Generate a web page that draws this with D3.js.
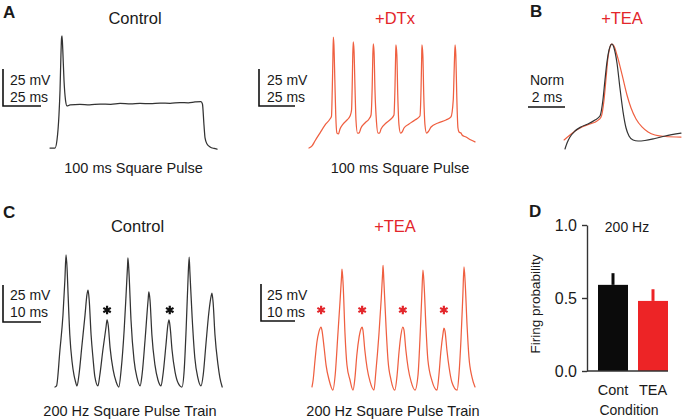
<!DOCTYPE html>
<html><head><meta charset="utf-8">
<script src="https://cdn.jsdelivr.net/npm/d3@7"></script>
<style>
body{margin:0;background:#fff}
svg{display:block}
text{font-family:"Liberation Sans",Arial,Helvetica,sans-serif}
</style>
</head><body>
<svg id="fig" width="685" height="420"></svg>
<script>
// ---------------- DATA (time in ms, membrane potential in mV) ----------------
// Panel A, Control: 100 ms square pulse
const traceA_control = [[0,-70],[3.3,-70],[4.6,-64.6],[5.9,-47.7],[6.6,-30.8],[7.2,-7.2],[7.6,4.3],[7.9,5.7],[8.4,-3.5],[9.2,-24.1],[10.2,-37.6],[11.2,-41.6],[13.2,-40.9],[19.7,-40.6],[26,-40.9],[32.9,-40.3],[40,-40.5],[46.1,-39.9],[53,-40.2],[59.2,-39.9],[66,-40.1],[72.4,-39.6],[79,-39.8],[85.5,-39.3],[91,-39.5],[95.4,-38.9],[99.3,-38.6],[100.3,-40.3],[101.3,-54.5],[102.0,-63.2],[103.3,-67.3],[105.3,-69.3],[107.9,-70.3],[109.9,-70.7]];
// Panel A, +DTx
const traceA_dtx = [[0,-70],[2.0,-68.6],[3.9,-65.3],[7.2,-59.9],[10.5,-54.5],[13.8,-50.4],[14.8,-48.4],[15.3,-30.8],[15.7,-10.5],[16.0,5.0],[16.4,-0.4],[17.0,-24.0],[17.6,-47.7],[18.4,-59.9],[19.4,-60.5],[20.4,-57.2],[22.4,-53.8],[25.0,-51.1],[27.0,-48.4],[28.0,-44.3],[28.5,-24.0],[28.8,-7.1],[29.1,1.7],[29.6,-3.8],[30.3,-30.8],[30.9,-51.1],[31.9,-59.9],[32.9,-59.9],[34.2,-56.5],[36.8,-53.1],[39.5,-50.4],[40.8,-47.7],[41.6,-27.4],[42.0,-7.1],[42.3,0.3],[42.8,-5.1],[43.4,-30.8],[44.4,-52.4],[45.4,-59.9],[46.4,-59.9],[47.4,-57.2],[50.7,-53.1],[53.9,-50.4],[55.9,-47.7],[56.6,-27.4],[57.0,-7.1],[57.2,-0.4],[57.8,-7.1],[58.4,-34.2],[59.2,-54.5],[60.2,-59.9],[61.2,-59.2],[62.5,-56.5],[65.8,-53.8],[69.7,-51.1],[73.0,-48.4],[73.7,-30.8],[74.1,-10.5],[74.3,-0.4],[74.9,-7.1],[75.5,-34.2],[76.3,-54.5],[77.3,-59.9],[78.3,-59.2],[80.3,-55.8],[84.9,-53.1],[90.1,-51.1],[93.4,-49.0],[94.9,-37.6],[95.6,-13.9],[96.1,-0.4],[96.6,-7.1],[97.2,-34.2],[98.0,-56.5],[98.7,-59.2],[100.0,-59.9],[100.7,-61.2],[103.3,-62.6],[106.6,-64.6],[109.2,-65.9]];
// Panel B: normalized spike waveform (time ms, normalized amplitude)
const traceB_control = [[0,0],[0.11,0.057],[0.27,0.114],[0.54,0.171],[0.86,0.21],[1.24,0.238],[1.62,0.276],[1.89,0.314],[2.05,0.467],[2.16,0.657],[2.27,0.829],[2.38,0.943],[2.49,0.995],[2.54,1.0],[2.65,0.962],[2.81,0.819],[2.97,0.581],[3.14,0.352],[3.30,0.2],[3.46,0.124],[3.68,0.086],[3.95,0.076],[4.32,0.081],[4.86,0.1],[5.41,0.124],[6.27,0.152]];
const traceB_tea = [[-0.05,0.086],[0.27,0.133],[0.54,0.171],[0.92,0.21],[1.35,0.238],[1.73,0.267],[1.95,0.305],[2.11,0.467],[2.22,0.676],[2.32,0.867],[2.43,0.971],[2.51,1.0],[2.65,0.981],[2.81,0.895],[2.97,0.79],[3.14,0.667],[3.35,0.514],[3.57,0.39],[3.84,0.286],[4.16,0.21],[4.49,0.162],[4.86,0.133],[5.41,0.119],[6.27,0.114]];
// Panel C, Control: 200 Hz square pulse train
const traceC_control = [[0,-70],[0.4,-69.3],[1.3,-45],[2.1,-21.4],[2.6,2.3],[2.9,19.2],[3.2,9.1],[3.4,-4.5],[3.9,-34.9],[4.5,-53.1],[5.0,-61.9],[5.3,-65.3],[5.8,-69.3],
 [6.3,-61.9],[7.1,-41.6],[7.9,-21.4],[8.4,-7.8],[8.7,-4.5],[9.0,-11.2],[9.5,-34.9],[10.0,-50.4],[10.5,-63.2],[11.3,-69.3],
 [11.8,-61.9],[12.6,-45.0],[13.4,-30.1],[13.7,-24.7],[14.0,-28.1],[14.5,-43.6],[15.3,-58.5],[16.1,-66.6],[16.8,-70],
 [17.4,-58.5],[18.2,-31.5],[18.7,-7.8],[19.1,12.4],[19.2,17.2],[19.5,5.7],[20.0,-24.7],[20.8,-51.8],[21.6,-63.9],[22.4,-69.3],
 [22.9,-61.9],[23.7,-38.2],[24.5,-11.2],[24.7,-5.8],[25.0,-11.2],[25.5,-34.9],[26.3,-55.1],[27.1,-65.3],[27.9,-69.3],
 [28.4,-61.9],[29.2,-41.6],[29.7,-28.1],[30.0,-24.7],[30.3,-29.5],[30.8,-45.0],[31.6,-59.9],[32.4,-67.3],[33.4,-70],
 [34.0,-58.5],[34.5,-31.5],[35.0,2.3],[35.3,17.8],[35.5,7.7],[36.1,-23.4],[36.8,-50.4],[37.6,-63.9],[38.4,-69.3],
 [39.0,-61.9],[39.7,-41.6],[40.5,-19.3],[41.1,-8.5],[41.3,-6.5],[41.6,-12.6],[42.1,-34.9],[42.9,-55.1],[43.4,-63.9],[44.0,-70]];
// Panel C, +TEA
const traceC_tea = [[0,-69.3],[0.3,-64.6],[0.8,-51.1],[1.3,-38.9],[1.8,-32.2],[2.4,-28.8],[2.6,-30.8],[3.2,-43.0],[3.7,-54.5],[4.5,-64.6],[5.5,-71.4],
 [6.1,-61.2],[6.8,-34.2],[7.4,-10.5],[7.8,6.4],[7.9,10.4],[8.2,-0.4],[8.7,-34.2],[9.2,-54.5],[10.0,-64.6],[10.8,-71.4],
 [11.3,-63.2],[11.8,-47.7],[12.4,-35.5],[12.9,-29.9],[13.2,-28.8],[13.4,-30.8],[13.9,-44.3],[14.5,-56.5],[15.3,-65.9],[16.3,-71.4],
 [16.8,-59.2],[17.6,-34.2],[18.2,-10.5],[18.6,8.4],[18.7,12.9],[18.9,3.0],[19.5,-29.5],[20.0,-51.1],[20.8,-64.6],[21.8,-71.4],
 [22.4,-61.2],[22.9,-45.7],[23.4,-34.2],[23.9,-28.8],[24.2,-30.8],[24.7,-44.3],[25.3,-56.5],[26.1,-65.9],[27.1,-71.4],
 [27.9,-61.2],[28.4,-37.6],[28.9,-7.2],[29.2,9.7],[29.5,-0.4],[30.0,-29.5],[30.5,-51.1],[31.6,-65.3],[32.9,-71.4],
 [33.4,-61.2],[33.9,-45.7],[34.5,-32.8],[34.7,-29.5],[35.0,-31.5],[35.5,-44.3],[36.1,-56.5],[36.8,-65.9],[38.2,-71.4],
 [38.7,-59.9],[39.2,-37.6],[39.7,-7.2],[40.0,11.8],[40.3,1.6],[40.8,-27.4],[41.3,-49.1],[42.1,-62.6],[42.9,-69.3]];
// Asterisks marking failed spikes (time ms, mV)
const starsC_control = [[13.7,-18],[30.2,-18]];
const starsC_tea = [[2.4,-17.3],[13.2,-17.3],[23.9,-17.3],[34.7,-17.3]];
// Panel D: firing probability at 200 Hz
const conditions = ["Cont","TEA"];
const firingMean = [0.59, 0.48];
const firingErrTop = [0.67, 0.56];
const yTicksD = [0, 0.5, 1.0];

// ---------------- DRAWING ----------------
const svg = d3.select("#fig");
const RED_TRACE = "#ef5f40", BLACK_TRACE = "#333", RED_TXT = "#e3262b", BAR_RED = "#ed2426";
const FONT = '"Liberation Sans",Arial,Helvetica,sans-serif';

function txt(x, y, s, opt = {}) {
  return svg.append("text").attr("x", x).attr("y", y).text(s)
    .attr("font-size", opt.size || 14.5).attr("fill", opt.fill || "#1a1a1a")
    .attr("font-weight", opt.bold ? "bold" : "normal")
    .attr("text-anchor", opt.anchor || "middle");
}
function trace(data, xs, ys, color, w = 1.25) {
  svg.append("path").datum(data)
    .attr("d", d3.line().x(d => xs(d[0])).y(d => ys(d[1])).curve(d3.curveMonotoneX))
    .attr("fill", "none").attr("stroke", color).attr("stroke-width", w)
    .attr("stroke-linejoin", "round").attr("stroke-linecap", "round");
}
function scaleBar(x0, yBottom, xLen, yLen, color = "#111") {
  const p = d3.path();
  if (yLen > 0) { p.moveTo(x0, yBottom - yLen); p.lineTo(x0, yBottom); }
  else p.moveTo(x0, yBottom);
  p.lineTo(x0 + xLen, yBottom);
  svg.append("path").attr("d", p.toString()).attr("fill", "none")
    .attr("stroke", color).attr("stroke-width", 1.6);
}
function stars(data, xs, ys, color) {
  svg.selectAll(null).data(data).enter().append("path")
    .attr("transform", d => `translate(${xs(d[0])},${ys(d[1])})`)
    .attr("d", d3.symbol(d3.symbolAsterisk, 52)())
    .attr("stroke", color).attr("stroke-width", 2.2).attr("fill", "none");
}

// Panel letters
txt(3, 18, "A", {bold: true, size: 17, anchor: "start"});
txt(530, 17, "B", {bold: true, size: 17, anchor: "start"});
txt(3, 218, "C", {bold: true, size: 17, anchor: "start"});
txt(529, 217, "D", {bold: true, size: 17, anchor: "start"});

// ---- Panel A ----
const yA = d3.scaleLinear().domain([-70, 0]).range([148, 148 - 70 * 1.48]);
const xA1 = d3.scaleLinear().domain([0, 100]).range([50, 202]);
const xA2 = d3.scaleLinear().domain([0, 100]).range([309, 461]);
trace(traceA_control, xA1, yA, BLACK_TRACE);
trace(traceA_dtx, xA2, yA, RED_TRACE);
const barMs = xA1(25) - xA1(0), barMv = yA(-70) - yA(-45);
scaleBar(3, 106, barMs, barMv);
scaleBar(259, 106, barMs - 2, barMv);
txt(10, 85, "25 mV", {anchor: "start", size: 14});
txt(10, 102, "25 ms", {anchor: "start", size: 14});
txt(267, 85, "25 mV", {anchor: "start", size: 14});
txt(267, 102, "25 ms", {anchor: "start", size: 14});
txt(135, 24, "Control", {size: 16.5});
txt(395, 24, "+DTx", {size: 16.5, fill: RED_TXT});
txt(133.5, 173, "100 ms Square Pulse");
txt(400, 173, "100 ms Square Pulse");

// ---- Panel B ----
const xB = d3.scaleLinear().domain([0, 2]).range([565, 602]);
const yB = d3.scaleLinear().domain([0, 1]).range([149, 44]);
trace(traceB_tea, xB, yB, RED_TRACE, 1.2);
trace(traceB_control, xB, yB, BLACK_TRACE, 1.2);
scaleBar(528, 107, xB(2) - xB(0), 0);
txt(547, 85, "Norm", {size: 14});
txt(547, 102, "2 ms", {size: 14});
txt(622, 24, "+TEA", {size: 16.5, fill: RED_TXT});

// ---- Panel C ----
const xC1 = d3.scaleLinear().domain([0, 10]).range([55, 93]);
const xC2 = d3.scaleLinear().domain([0, 10]).range([312, 350]);
const yC1 = d3.scaleLinear().domain([-70, 0]).range([387, 387 - 70 * 1.48]);
const yC2 = d3.scaleLinear().domain([-70, 0]).range([388, 388 - 70 * 1.48]);
trace(traceC_control, xC1, yC1, BLACK_TRACE);
trace(traceC_tea, xC2, yC2, RED_TRACE);
stars(starsC_control, xC1, yC1, "#111");
stars(starsC_tea, xC2, yC2, RED_TXT);
const barC_ms = xC1(10) - xC1(0), barC_mv = yC1(-70) - yC1(-45);
scaleBar(3, 322, barC_ms, barC_mv);
scaleBar(261, 321, barC_ms - 4, barC_mv);
txt(10, 300, "25 mV", {anchor: "start", size: 14});
txt(10, 317, "10 ms", {anchor: "start", size: 14});
txt(267, 300, "25 mV", {anchor: "start", size: 14});
txt(267, 317, "10 ms", {anchor: "start", size: 14});
txt(137.5, 232, "Control", {size: 16.5});
txt(395, 232, "+TEA", {size: 16.5, fill: RED_TXT});
txt(130, 415.5, "200 Hz Square Pulse Train");
txt(393, 415.5, "200 Hz Square Pulse Train");

// ---- Panel D ----
const yD = d3.scaleLinear().domain([0, 1]).range([371, 225]);
const xD = d3.scaleBand().domain(conditions).range([593, 673]).paddingInner(0.25).paddingOuter(0.125);
const barColors = ["#0b0b0b", BAR_RED];
const gD = svg.append("g");
gD.selectAll("line.err").data(conditions).enter().append("line")
  .attr("x1", d => xD(d) + xD.bandwidth() / 2).attr("x2", d => xD(d) + xD.bandwidth() / 2)
  .attr("y1", (d, i) => yD(firingMean[i])).attr("y2", (d, i) => yD(firingErrTop[i]))
  .attr("stroke", (d, i) => barColors[i]).attr("stroke-width", 3);
gD.selectAll("rect").data(conditions).enter().append("rect")
  .attr("x", d => xD(d)).attr("width", xD.bandwidth())
  .attr("y", (d, i) => yD(firingMean[i])).attr("height", (d, i) => yD(0) - yD(firingMean[i]))
  .attr("fill", (d, i) => barColors[i]);
const axD = svg.append("g").attr("transform", "translate(587,0)")
  .call(d3.axisLeft(yD).tickValues(yTicksD).tickFormat(d3.format(".1f")).tickSize(5).tickSizeOuter(0).tickPadding(5));
axD.select(".domain").attr("stroke", "#333").attr("stroke-width", 1.4);
axD.selectAll(".tick line").attr("stroke", "#333").attr("stroke-width", 1.4);
axD.selectAll(".tick text").attr("font-size", 16).attr("font-family", FONT).attr("fill", "#1a1a1a");
svg.append("line").attr("x1", 587).attr("x2", xD("TEA") + xD.bandwidth())
  .attr("y1", yD(0)).attr("y2", yD(0)).attr("stroke", "#333").attr("stroke-width", 1.4);
conditions.forEach(c => txt(xD(c) + xD.bandwidth() / 2, 395, c, {size: 14.5}));
txt(629, 415, "Condition", {size: 14});
txt(627, 232, "200 Hz", {size: 14});
svg.append("text").attr("transform", "translate(540,304) rotate(-90)")
  .attr("text-anchor", "middle").attr("font-size", 13.5).attr("fill", "#1a1a1a").text("Firing probability");
</script>
</body></html>
